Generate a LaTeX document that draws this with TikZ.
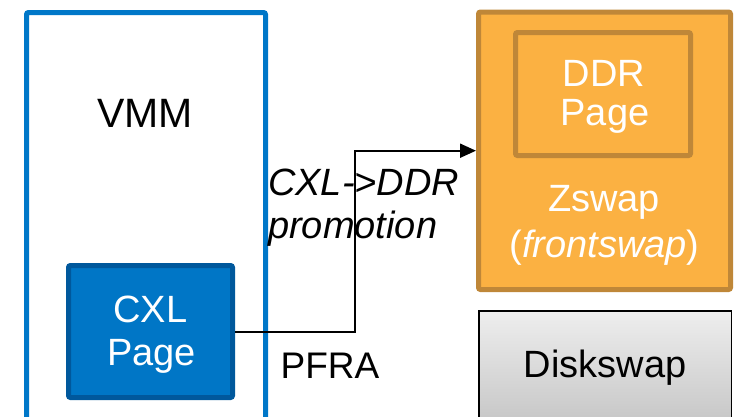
\documentclass[tikz,border=0pt]{standalone}
\usepackage{fontspec}
\setmainfont{Liberation Sans}
\usetikzlibrary{arrows.meta}
\definecolor{vmmblue}{RGB}{0,119,200}
\definecolor{cxlfill}{RGB}{0,118,198}
\definecolor{cxledge}{RGB}{0,88,156}
\definecolor{zfill}{RGB}{251,177,66}
\definecolor{zedge}{RGB}{191,135,56}
\definecolor{disktop}{RGB}{238,238,238}
\definecolor{diskbot}{RGB}{196,196,196}
\begin{document}
\begin{tikzpicture}[x=1pt,y=-1pt,
  box/.style={rectangle, inner sep=0pt, line width=5pt, rounded corners=2pt},
  txt/.style={inner sep=0pt, anchor=base, font=\fontsize{38}{45}\selectfont},
  wtxt/.style={txt, text=white},
  link/.style={line width=2pt, -{Triangle[length=16pt,width=14pt]}}]
\useasboundingbox (0,0) rectangle (734,416);
\clip (0,0) rectangle (734,416);

% VMM region (runs off the bottom edge)
\node[box, draw=vmmblue, fill=white, minimum width=239pt, minimum height=417.5pt] (vmm) at (146,221.25) {};
\node[txt, font=\fontsize{41}{48}\selectfont] (vmmlbl) at (145,127) {VMM};

% CXL page inside the VMM
\node[box, draw=cxledge, fill=cxlfill, minimum width=164pt, minimum height=132pt] (cxl) at (150.5,331.5) {};
\node[wtxt] (cxlA) at (150.5,322.5) {CXL};
\node[wtxt] (cxlB) at (151.5,365) {Page};

% Zswap with its DDR page
\node[box, draw=zedge, fill=zfill, minimum width=252pt, minimum height=277.5pt] (zswap) at (604.5,150.75) {};
\node[box, draw=zedge, fill=zfill, minimum width=175pt, minimum height=123pt] (ddr) at (603,94) {};
\node[wtxt] (ddrA) at (603.8,86) {DDR};
\node[wtxt] (ddrB) at (605,125) {Page};
\node[wtxt] (zswA) at (604,211) {Zswap};
\node[wtxt] (zswB) at (604.5,257) {(\textit{frontswap})};

% Disk swap (runs off the bottom edge)
\node[rectangle, inner sep=0pt, line width=1.5pt, draw=black, top color=disktop, bottom color=diskbot,
      minimum width=252.5pt, minimum height=119.25pt] (disk) at (605,370.4) {};
\node[txt] (diskA) at (605,377) {Diskswap};

% Labels along the promotion path
\node[txt, font=\fontsize{37}{44}\selectfont] (pfra) at (330,378.5) {PFRA};
\node[txt, anchor=base west, font=\fontsize{38}{45}\selectfont\itshape] (promA) at (268,195) {CXL->DDR};
\node[txt, anchor=base west, font=\fontsize{38}{45}\selectfont\itshape] (promB) at (268,238.5) {promotion};

% Promotion path from the CXL page to Zswap
\coordinate (bend) at (355,150.7);
\draw[link] (cxl.east) -| (bend) -- (bend -| zswap.west);
\end{tikzpicture}
\end{document}
